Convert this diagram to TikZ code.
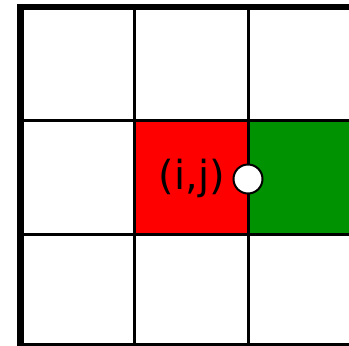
\documentclass[tikz,border=0pt]{standalone}
\usepackage{fontspec}
\setmainfont{DejaVu Sans}
\definecolor{cellgreen}{RGB}{0,146,0}
\begin{document}
\begin{tikzpicture}[x=1pt,y=-1pt,
  thinline/.style={line width=3pt,black},
  thickline/.style={line width=6.5pt,black},
  cell/.style={draw=none,minimum width=113.5pt,minimum height=113.5pt,inner sep=0pt,anchor=north west}]
\useasboundingbox (0,0) rectangle (349,346);
\clip (0,0) rectangle (349,346);
\node[cell,fill=red] (red) at (134.5,120.5) {};
\node[cell,fill=cellgreen] (green) at (248,120.5) {};
% grid lines
\draw[thinline] (134.5,7) -- (134.5,346);
\draw[thinline] (248,7) -- (248,346);
\draw[thinline] (20,120.5) -- (349,120.5);
\draw[thinline] (20,234) -- (349,234);
\draw[thinline] (20,344.5) -- (349,344.5);
\draw[thickline] (20.5,4) -- (20.5,346);
\draw[thickline] (17.25,7) -- (349,7);
\node[circle,draw=black,line width=2pt,fill=white,minimum size=29pt,inner sep=0pt] (pt) at (248,179) {};
\node[font=\fontsize{40}{42}\selectfont,anchor=east,inner sep=0pt] (lbl) at (225,178.5) {(i,j)};
\end{tikzpicture}
\end{document}
